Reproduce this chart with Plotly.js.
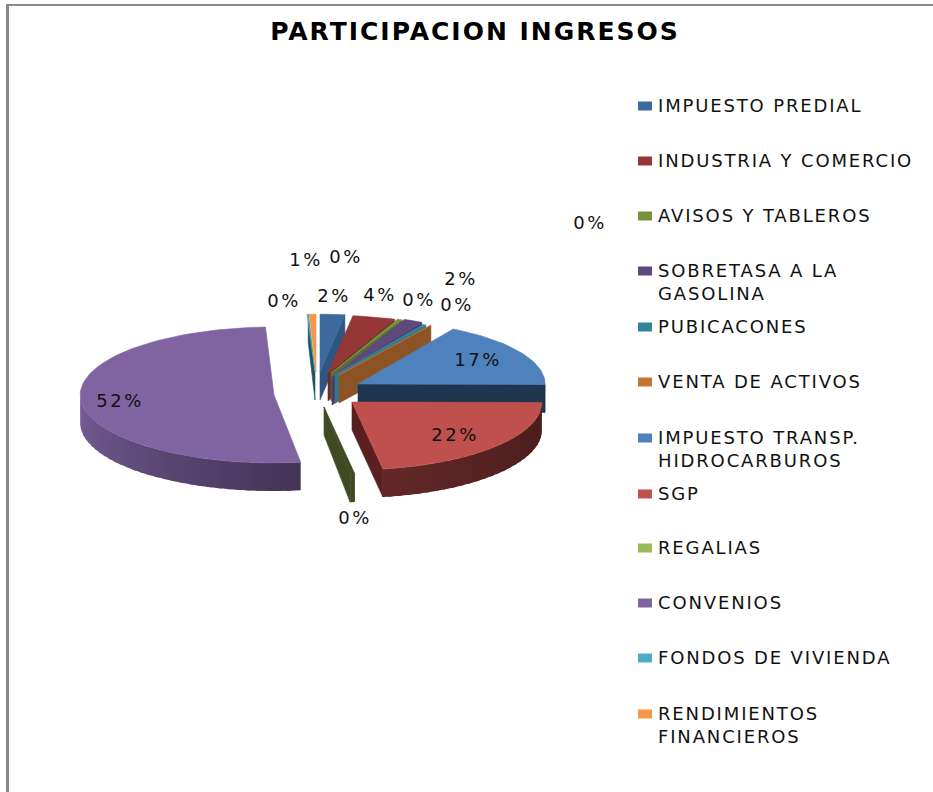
<!DOCTYPE html>
<html>
<head>
<meta charset="utf-8">
<script src="https://cdn.plot.ly/plotly-3.0.1.min.js"></script>
<style>
html,body{margin:0;padding:0;background:#fff;}
#chart{width:933px;height:792px;}
#chart .annotation-text{letter-spacing:1.85px;}
#chart .textpoint text{letter-spacing:2.5px;}
#chart .gtitle{letter-spacing:2px;}
</style>
</head>
<body>
<div id="chart"></div>
<script>
// Data
const categories = ["IMPUESTO PREDIAL","INDUSTRIA Y COMERCIO","AVISOS Y TABLEROS","SOBRETASA A LA<br>GASOLINA","PUBICACONES","VENTA DE ACTIVOS","IMPUESTO TRANSP.<br>HIDROCARBUROS","SGP","REGALIAS","CONVENIOS","FONDOS DE VIVIENDA","RENDIMIENTOS<br>FINANCIEROS"];
const values = [2.2,3.8,0.4,1.7,0.3,0.1,16.6,22.3,0.4,51.5,0.1,0.6];
const percentLabels = ["2%","4%","0%","2%","0%","0%","17%","22%","0%","52%","0%","1%","0%"];

// Colours
const legendColors = ["#3C6A9E","#953735","#76923C","#5F497A","#31859B","#C4752F","#4F81BD","#C0504D","#9BBB59","#8064A2","#4BACC6","#F79646"];
const topColors  = ["#3C6A9E","#953735","#76923C","#5F497A","#31859B","#C4752F","#4F81BD","#C0504D","#3F4A22","#8064A2","#4BACC6","#F79646"];
const faceColors = ["#2F5680","#6E2B2A","#5B7030","#4F3A68","#2F7A90","#8C5424","#1F3550","#5A2020","#3F4A22",null,"#1E5560",null];
const sideStart  = ["#2F5680","#6E2B2A","#5B7030","#4F3A68","#2F7A90","#8C5424","#1F3550","#471B1B","#3F4A22","#433355","#1E5560","#8C5424"];
const sideEnd    = ["#2F5680","#6E2B2A","#5B7030","#4F3A68","#2F7A90","#8C5424","#1F3550","#632828","#3F4A22","#77609A","#1E5560","#8C5424"];

// Pie geometry, in page pixels (the axes below run 1:1 with the page)
const apexX = [320,328,331,332,335,339,358,352,324,274,315,316];
const apexY = [372,373,373,377,375,375,384,402,407,395,372,372];
const radiusX = 190, radiusY = 68, depth = 28;
const radiusXScale = [0.95,0.95,0.95,0.97,0.95,0.95,0.985,1,1,1.02,0.95,0.95];
const radiusYScale = [0.85,0.85,0.85,0.92,0.85,0.85,0.94,1,1,1,0.85,0.85];

// Label and legend placement
const labelX = [334,380,419,461,457,590,478,455,355,120,284,306,346];
const labelY = [297,296,301,280,306,224,361,436,519,402,302,261,258];
const legendY = [106,161,216,271,327,382,438,494,548,603,658,714];

function hex(c){return [1,3,5].map(i=>parseInt(c.substr(i,2),16));}
function mix(a,b,t){const A=hex(a),B=hex(b);return 'rgb('+A.map((v,i)=>Math.round(v+(B[i]-v)*t)).join(',')+')';}

const traces=[];
function poly(xs,ys,color,lineWidth,extra){
  traces.push(Object.assign({type:'scatter',mode:'lines',x:xs.concat(xs[0]),y:ys.concat(ys[0]),fill:'toself',fillcolor:color,
    line:{color:color,width:lineWidth},hoverinfo:'skip',showlegend:false},extra||{}));
}
const total = values.reduce((a,b)=>a+b,0);
let acc=0;
values.forEach((v,i)=>{
  const t1=acc/total*360, t2=(acc+v)/total*360; acc+=v;
  const ax=apexX[i], ay=apexY[i], rx=radiusX*radiusXScale[i], ry=radiusY*radiusYScale[i];
  const px=t=>ax+rx*Math.sin(t*Math.PI/180), py=t=>ay-ry*Math.cos(t*Math.PI/180);
  // outer wall: only the part that faces the viewer, in overlapping strips so no seams show
  const a=Math.max(t1,90), b=Math.min(t2,270);
  if(b>a){
    const n=Math.max(1,Math.ceil((b-a)/3));
    for(let k=0;k<n;k++){
      const s=a+(b-a)*k/n, e=Math.min(b,a+(b-a)*(k+1)/n+1.5);
      const xs=[],ys=[];
      for(let q=0;q<=3;q++){const t=s+(e-s)*q/3; xs.push(px(t)); ys.push(py(t));}
      for(let q=3;q>=0;q--){const t=s+(e-s)*q/3; xs.push(px(t)); ys.push(py(t)+depth);}
      poly(xs,ys,mix(sideStart[i],sideEnd[i],(k+0.5)/n),0);
    }
  }
  // cut face
  if(faceColors[i]) poly([ax,px(t2),px(t2),ax],[ay,py(t2),py(t2)+depth,ay+depth],faceColors[i],0.6);
  // top surface
  const xs=[ax], ys=[ay], steps=Math.max(2,Math.ceil((t2-t1)/2));
  for(let k=0;k<=steps;k++){const t=t1+(t2-t1)*k/steps; xs.push(px(t)); ys.push(py(t));}
  const plain=categories[i].replace('<br>',' ');
  poly(xs,ys,topColors[i],0.6,{name:plain,text:plain+': '+v+'%',hoveron:'fills',hoverinfo:'text'});
});

traces.push({type:'scatter',mode:'text',x:labelX,y:labelY,text:percentLabels,textposition:'middle center',
  textfont:{family:'DejaVu Sans',size:18,color:'#111'},hoverinfo:'skip',showlegend:false});

const shapes=[
  {type:'rect',xref:'x',yref:'y',x0:6,x1:9,y0:4,y1:792,fillcolor:'#888',line:{width:0},layer:'below'},
  {type:'rect',xref:'x',yref:'y',x0:6,x1:933,y0:4,y1:6,fillcolor:'#888',line:{width:0},layer:'below'}
];
const annotations=[];
categories.forEach((c,i)=>{
  shapes.push({type:'rect',xref:'x',yref:'y',x0:638,x1:652,y0:legendY[i]-4.5,y1:legendY[i]+4.5,fillcolor:legendColors[i],line:{width:0}});
  annotations.push({xref:'x',yref:'y',x:657,y:legendY[i]-12,xanchor:'left',yanchor:'top',align:'left',showarrow:false,text:c,
    font:{family:'DejaVu Sans',size:18,color:'#111'},borderpad:0});
});

const layout={
  width:933,height:792,margin:{l:0,r:0,t:0,b:0},paper_bgcolor:'#fff',plot_bgcolor:'#fff',showlegend:false,hovermode:'closest',
  title:{text:'<b>PARTICIPACION INGRESOS</b>',x:475/933,xanchor:'center',y:1-31/792,yanchor:'middle',font:{family:'DejaVu Sans',size:25,color:'#000'}},
  xaxis:{range:[0,933],visible:false,fixedrange:true},
  yaxis:{range:[792,0],visible:false,fixedrange:true},
  shapes:shapes,annotations:annotations
};
Plotly.newPlot('chart',traces,layout,{displayModeBar:false,responsive:false});
</script>
</body>
</html>
